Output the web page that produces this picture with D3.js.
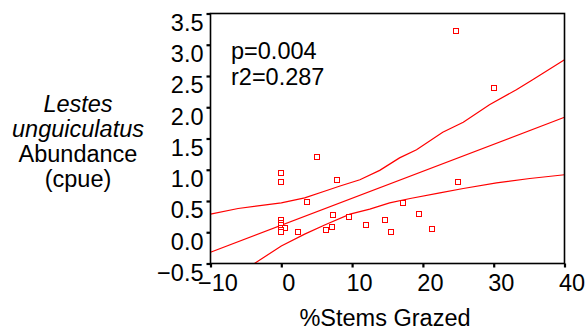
<!DOCTYPE html>
<html>
<head>
<meta charset="utf-8">
<script src="https://cdn.jsdelivr.net/npm/d3@7"></script>
<style>
  html, body { margin: 0; padding: 0; background: #fff; }
  svg { display: block; }
  text { font-family: "Liberation Sans", Arial, sans-serif; fill: #000; }
</style>
</head>
<body>
<script>
// ---- data ----
const xTicks = [-10, 0, 10, 20, 30, 40];
const yTicks = [-0.5, 0.0, 0.5, 1.0, 1.5, 2.0, 2.5, 3.0, 3.5];

const grazed = [24.7, 30.0, 25.0, 5.1, 0, 0, 7.8, 3.7, 17.2, 7.3, 9.6, 14.7, 19.5, 12.0,
                7.1, 6.3, 2.4, 15.5, 21.3, 0, 0, 0, 0, 0.5, 0, 0];
const abundance = [3.22, 2.31, 0.80, 1.21, 0.95, 0.80, 0.83, 0.49, 0.47, 0.28, 0.24, 0.19, 0.29, 0.12,
                   0.09, 0.03, 0.00, 0.00, 0.05, 0.20, 0.155, 0.11, 0.075, 0.075, 0.035, 0.00];

const fitX = [-10, 40];
const fitY = [-0.32, 1.84];

const upperX = [-10, -6.1, 0, 3.3, 6.2, 8.3, 11.1, 13.9, 16.7, 19.1, 22.8, 25.7, 29.4, 33.2, 35.5, 40];
const upperY = [0.29, 0.38, 0.47, 0.55, 0.66, 0.74, 0.84, 0.99, 1.19, 1.32, 1.60, 1.76, 2.04, 2.28, 2.44, 2.76];

const lowerX = [-3.8, 0, 3.3, 6.2, 9.7, 12.5, 15.3, 18.2, 22.4, 25.7, 30.4, 35.1, 40];
const lowerY = [-0.5, -0.22, -0.03, 0.12, 0.29, 0.37, 0.47, 0.54, 0.63, 0.70, 0.79, 0.86, 0.92];

const statLines = ["p=0.004", "r2=0.287"];
const yTitle = [
  {t: "Lestes", italic: true},
  {t: "unguiculatus", italic: true},
  {t: "Abundance", italic: false},
  {t: "(cpue)", italic: false}
];
const xTitle = "%Stems Grazed";

// ---- layout ----
const W = 588, H = 331;
const L = 210.5, R = 564.5, T = 13.5, B = 263.5;
const red = "#ff0000";
const FS = "23.5px";

const svg = d3.select("body").append("svg").attr("width", W).attr("height", H);

const x = d3.scaleLinear().domain([-10, 40]).range([L, R]);
const y = d3.scaleLinear().domain([-0.5, 3.5]).range([B, T]);

// clip
svg.append("clipPath").attr("id", "plotclip")
  .append("rect").attr("x", L).attr("y", T).attr("width", R - L).attr("height", B - T);

// lines
const line = d3.line().x(d => x(d[0])).y(d => y(d[1]));
const g = svg.append("g").attr("clip-path", "url(#plotclip)");
[[fitX, fitY], [upperX, upperY], [lowerX, lowerY]].forEach(([xs, ys]) => {
  g.append("path").datum(xs.map((v, i) => [v, ys[i]]))
    .attr("d", line).attr("fill", "none").attr("stroke", red).attr("stroke-width", 1.2);
});

// points
svg.append("g").selectAll("rect.pt").data(grazed.map((v, i) => [v, abundance[i]]))
  .join("rect").attr("class", "pt")
  .attr("x", d => Math.round(x(d[0])) - 2.5).attr("y", d => Math.round(y(d[1])) - 2.5)
  .attr("width", 5).attr("height", 5)
  .attr("fill", "#ffffff").attr("stroke", red).attr("stroke-width", 1);

// frame
svg.append("rect").attr("x", L).attr("y", T).attr("width", R - L).attr("height", B - T)
  .attr("fill", "none").attr("stroke", "#000").attr("stroke-width", 1.6);

// axes
const yAxis = d3.axisLeft(y).tickValues(yTicks).tickFormat(d3.format(".1f"))
  .tickSize(4).tickSizeOuter(0).tickPadding(3);
const ya = svg.append("g").attr("transform", `translate(${L},0)`).call(yAxis);
ya.select(".domain").remove();
ya.selectAll(".tick line").attr("stroke", "#000").attr("stroke-width", 2.2);
ya.selectAll(".tick text").attr("dy", "0.72em").style("font-size", FS)
  .style("font-family", "'Liberation Sans', Arial, sans-serif").attr("fill", "#000");

const xAxis = d3.axisBottom(x).tickValues(xTicks).tickFormat(d3.format("d"))
  .tickSize(4).tickSizeOuter(0).tickPadding(7);
const xa = svg.append("g").attr("transform", `translate(0,${B})`).call(xAxis);
xa.select(".domain").remove();
xa.selectAll(".tick line").attr("stroke", "#000").attr("stroke-width", 2.2);
xa.selectAll(".tick text").attr("dx", 7).style("font-size", FS)
  .style("font-family", "'Liberation Sans', Arial, sans-serif").attr("fill", "#000");

// stats text
svg.selectAll("text.stat").data(statLines).join("text").attr("class", "stat")
  .attr("x", 231).attr("y", (d, i) => 58.5 + i * 26.8)
  .style("font-size", FS).text(d => d);

// y title
svg.selectAll("text.ytitle").data(yTitle).join("text").attr("class", "ytitle")
  .attr("x", 78).attr("y", (d, i) => 111.5 + i * 25)
  .attr("text-anchor", "middle")
  .style("font-size", FS)
  .style("font-style", d => d.italic ? "italic" : "normal")
  .text(d => d.t);

// x title
svg.append("text").attr("x", 385).attr("y", 326).attr("text-anchor", "middle")
  .style("font-size", FS).text(xTitle);
</script>
</body>
</html>
